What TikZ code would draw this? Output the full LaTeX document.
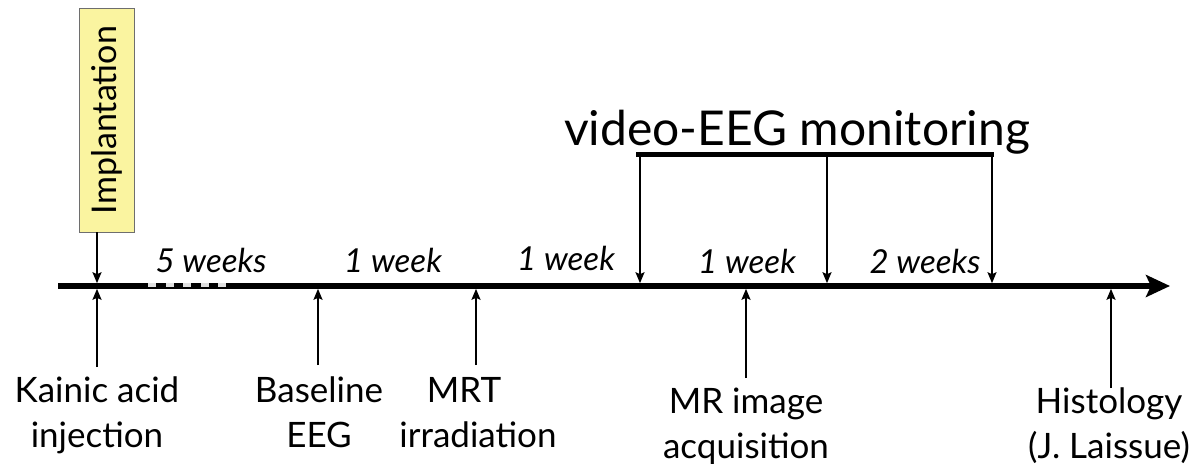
\documentclass[tikz,border=0pt]{standalone}
\usepackage{fontspec}
\setmainfont{Lato}
\usetikzlibrary{arrows.meta}
\definecolor{implfill}{RGB}{250,244,160}
\definecolor{implline}{RGB}{110,110,110}
\begin{document}
\begin{tikzpicture}[x=1pt,y=-1pt,
  lbl/.style={font=\fontsize{35}{45}\selectfont, align=center, inner sep=0pt, anchor=north},
  wk/.style={font=\fontsize{33}{38}\selectfont\itshape, inner sep=0pt, anchor=base},
  evarrow/.style={line width=1.8pt, -{Stealth[length=11pt,width=9pt,inset=2pt]}, shorten >=2.8pt},
  mainline/.style={line width=5.5pt, -{Stealth[length=24pt,width=22pt,inset=5pt]}},
  bar/.style={line width=5pt},
  dashsq/.style={fill=gray!25}
]
\useasboundingbox (0,0) rectangle (1192,472);
% timeline
\coordinate (tl0) at (58,286);
\coordinate (tl1) at (1170,286);
\draw[mainline] (tl0) -- (tl1);
\foreach \x in {148,165.5,183,200.5,218}
  \fill[dashsq] (\x,283.3) rectangle ++(8,3.8);
% event points on the timeline
\coordinate (kx) at (97,286);
\coordinate (bx) at (318,286);
\coordinate (mx) at (476,286);
\coordinate (v1) at (640,286);
\coordinate (mrx) at (746,286);
\coordinate (v2) at (827,286);
\coordinate (v3) at (992,286);
\coordinate (hx) at (1111,286);
% implantation
\node[draw=implline, line width=0.8pt, fill=implfill, rotate=90,
      minimum width=224pt, minimum height=55pt, inner sep=0pt,
      font=\fontsize{34}{40}\selectfont] (impl) at (106.5,120) {Implantation};
\draw[evarrow] (impl.west -| kx) -- (kx);
% week labels
\node[wk] (w5) at (211,272) {5 weeks};
\node[wk] (w1a) at (393,272) {1 week};
\node[wk] (w1b) at (566,270) {1 week};
\node[wk] (w1c) at (747,273) {1 week};
\node[wk] (w2) at (925,273) {2 weeks};
% bottom labels
\node[lbl] (ka) at (97,377) {Kainic acid\\injection};
\node[lbl] (ba) at (319,377) {Baseline\\EEG};
\node[lbl] (mrt) at (478,377) {MRT\hspace*{28pt}\\irradiation};
\node[lbl] (mri) at (746,388) {MR image\\acquisition};
\node[lbl] (his) at (1109,388) {Histology\\(J. Laissue)};
\draw[evarrow] ([yshift=10pt]ka.north -| kx) -- (kx);
\draw[evarrow] ([yshift=12pt]ba.north -| bx) -- (bx);
\draw[evarrow] ([yshift=12pt]mrt.north -| mx) -- (mx);
\draw[evarrow] ([yshift=10pt]mri.north -| mrx) -- (mrx);
\draw[evarrow] ([yshift=0pt]his.north -| hx) -- (hx);
% video-EEG monitoring
\node[font=\fontsize{48}{56}\selectfont, inner sep=0pt, anchor=base] (vid) at (797,145) {video-EEG monitoring};
\coordinate (vb1) at (636,154);
\coordinate (vb2) at (994,154);
\draw[bar] (vb1) -- (vb2);
\draw[evarrow] (v1 |- vb1) -- (v1);
\draw[evarrow] (v2 |- vb1) -- (v2);
\draw[evarrow] (v3 |- vb1) -- (v3);
\end{tikzpicture}
\end{document}
